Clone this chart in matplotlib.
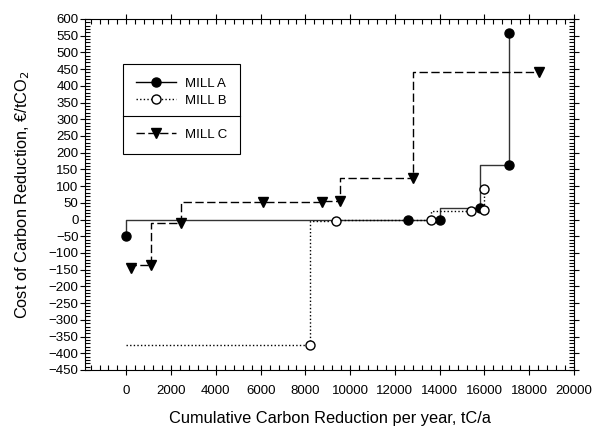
import matplotlib
matplotlib.use("Agg")
import matplotlib.pyplot as plt
from matplotlib.lines import Line2D
from matplotlib.ticker import MultipleLocator

plt.rcParams['font.family'] = ['Liberation Sans', 'DejaVu Sans']

# cumulative reduction (tC/a) and cost (EUR/tCO2) for each measure
mill_a_x = [0, 12600, 14000, 15800, 17100, 17100]
mill_a_y = [-50, -2, -1, 34, 162, 558]

# mill B line starts at the origin, first point has no marker
mill_b_x = [0, 8200, 9370, 13600, 15400, 15960, 15960]
mill_b_y = [-375, -375, -5, -1, 26, 28, 90]

mill_c_x = [220, 1080, 2440, 6120, 8740, 9560, 12800, 18440]
mill_c_y = [-146, -136, -10, 52, 53, 56, 124, 441]

labels = ["MILL A", "MILL B", "MILL C"]

fig = plt.figure(figsize=(5.94, 4.26), dpi=100)
ax = fig.add_axes([0.1431, 0.1315, 0.8232, 0.8239])

ax.plot(mill_a_x, mill_a_y, drawstyle='steps-pre', color='#333333', lw=1.0,
        marker='o', ms=6.5, mfc='black', mec='black', zorder=3)
ax.plot(mill_b_x, mill_b_y, drawstyle='steps-pre', color='black', lw=1.0,
        ls=(0, (1, 1.6)), marker='o', ms=6.5, mfc='white', mec='black',
        markevery=list(range(1, len(mill_b_x))), zorder=4)
ax.plot(mill_c_x, mill_c_y, drawstyle='steps-pre', color='black', lw=1.0,
        ls=(0, (6, 2.5)), marker='v', ms=6.5, mfc='black', mec='black', zorder=3)

ax.set_xlim(-1850, 20000)
ax.set_ylim(-450, 600)
ax.set_xticks(range(0, 20001, 2000))
ax.xaxis.set_minor_locator(MultipleLocator(400))
ax.yaxis.set_major_locator(MultipleLocator(50))
ax.yaxis.set_minor_locator(MultipleLocator(10))

ax.tick_params(which='major', direction='inout', length=6.5, width=0.8,
               labelsize=9.5, top=True, right=True, pad=1.5)
ax.tick_params(which='minor', direction='in', length=3.5, width=0.8,
               top=True, right=True)
ax.tick_params(axis='x', which='major', pad=7.5)
for s in ax.spines.values():
    s.set_linewidth(0.8)

ax.set_xlabel("Cumulative Carbon Reduction per year, tC/a", fontsize=11.8, labelpad=10)
ax.set_ylabel("Cost of Carbon Reduction, €/tCO$_2$", fontsize=11.8, labelpad=12)

# legend with an empty row used as a divider
h_a = Line2D([], [], color='black', lw=1.0, marker='o', ms=6.5, mfc='black', mec='black')
h_b = Line2D([], [], color='black', lw=1.0, ls=(0, (1, 1.6)), marker='o', ms=6.5,
             mfc='white', mec='black')
h_blank = Line2D([], [], color='none')
h_c = Line2D([], [], color='black', lw=1.0, ls=(0, (6, 2.5)), marker='v', ms=6.5,
             mfc='black', mec='black')
leg = ax.legend([h_a, h_b, h_blank, h_c], [labels[0], labels[1], "", labels[2]],
                loc='upper left', bbox_to_anchor=(0.0777, 0.871), borderaxespad=0,
                fancybox=False, edgecolor='black', framealpha=1, fontsize=9.5,
                handlelength=3.0, handletextpad=0.7, borderpad=1.0,
                labelspacing=0.36)
leg.get_frame().set_linewidth(0.8)

fig.canvas.draw()
bb = leg.get_frame().get_window_extent().transformed(ax.transAxes.inverted())
ax.plot([bb.x0, bb.x1], [0.723, 0.723], transform=ax.transAxes, color='black',
        lw=0.8, clip_on=False, zorder=6)

fig.savefig("out.png", dpi=100)
